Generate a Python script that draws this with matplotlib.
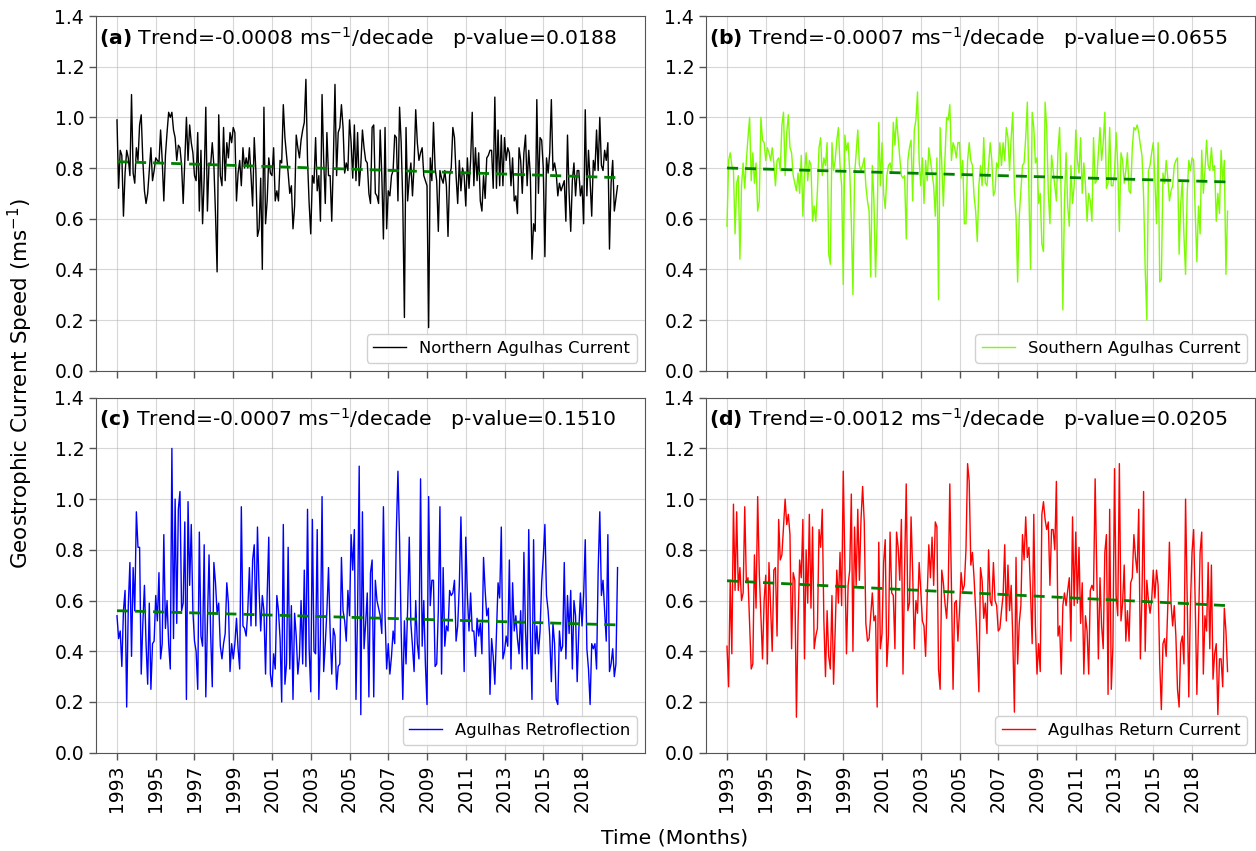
import numpy as np
import matplotlib
matplotlib.use("Agg")
import matplotlib.pyplot as plt

# ---------------- data (monthly values) ----------------
north_agulhas = [
    0.99, 0.72, 0.87, 0.85, 0.61, 0.78, 0.87, 0.84, 0.77, 1.09,
    0.78, 0.74, 0.88, 0.83, 0.97, 1.01, 0.83, 0.71, 0.66, 0.70,
    0.79, 0.88, 0.75, 0.79, 0.84, 0.83, 0.82, 0.95, 0.83, 0.67,
    0.85, 0.94, 1.02, 1.00, 1.02, 0.95, 0.92, 0.83, 0.89, 0.88,
    0.81, 0.66, 0.83, 1.00, 0.83, 0.97, 0.90, 0.86, 0.77, 0.75,
    0.94, 0.63, 0.87, 0.58, 0.76, 1.04, 0.63, 0.82, 0.81, 0.90,
    0.81, 0.62, 0.39, 1.01, 0.77, 0.73, 0.96, 0.75, 0.90, 0.84,
    0.94, 0.90, 0.96, 0.94, 0.67, 0.78, 0.83, 0.73, 0.88, 0.80,
    0.84, 0.80, 0.88, 0.77, 0.65, 0.92, 0.79, 0.53, 0.56, 0.76,
    0.40, 1.04, 0.58, 0.67, 0.84, 0.78, 0.77, 0.88, 0.67, 0.71,
    0.67, 0.83, 0.82, 1.05,
    0.92, 0.85, 0.78, 0.70, 0.73, 0.56, 0.65, 0.93, 0.88, 0.84,
    0.91, 0.95, 0.98, 1.15, 0.83, 0.66, 0.54, 0.77, 0.74, 0.92,
    0.71, 0.77, 0.59, 1.09, 0.83, 0.66, 0.94, 0.77, 0.77, 0.59,
    0.83, 1.13, 0.77, 0.94, 0.96, 1.05, 0.96, 0.78, 0.82, 0.79,
    0.99, 0.90, 0.76, 0.97, 0.75, 0.94, 0.73, 0.81, 0.95, 0.88,
    0.83, 0.82, 0.70, 0.66, 0.96, 0.97, 0.70, 0.69, 0.66, 0.95,
    0.77, 0.52, 0.96, 0.56, 0.71, 0.69, 0.77, 0.79, 0.93, 0.92,
    0.67, 1.04, 0.90, 0.66, 0.21, 0.96, 0.67, 0.76, 0.82, 0.69,
    0.81, 1.03, 0.90, 0.83, 0.86, 0.88, 0.77, 0.75, 0.73, 0.17,
    0.84, 0.75, 0.98, 0.80, 0.75, 0.55, 0.79, 0.76, 0.74, 0.79,
    0.73, 0.53, 0.77, 0.80,
    0.96, 0.92, 0.77, 0.66, 0.83, 0.71, 0.80, 0.77, 0.65, 0.84,
    0.72, 0.83, 1.02, 0.73, 0.88, 0.75, 0.86, 0.67, 0.63, 0.77,
    0.68, 0.84, 0.85, 0.87, 0.87, 0.72, 1.08, 0.72, 0.95, 0.73,
    0.93, 0.73, 0.92, 0.83, 0.88, 0.86, 0.73, 0.84, 0.67, 0.69,
    0.62, 0.88, 0.83, 0.70, 0.86, 0.93, 0.73, 0.87, 0.77, 0.44,
    0.58, 0.55, 1.07, 0.70, 0.92, 0.91, 0.80, 0.45, 0.84, 0.78,
    0.86, 1.07, 0.79, 0.82, 0.78, 0.69, 0.74, 0.71, 0.73, 0.75,
    0.59, 0.93, 0.70, 0.55, 0.75, 0.82, 0.69, 0.79, 0.79, 0.69,
    0.73, 0.58, 1.03, 0.69, 0.87, 0.75, 0.61, 0.83, 0.79, 0.95,
    0.79, 1.00, 0.81, 0.79, 0.87, 0.83, 0.90, 0.48, 0.74, 0.83,
    0.63, 0.68, 0.73,
]

south_agulhas = [
    0.57, 0.83, 0.86, 0.81, 0.79, 0.54, 0.74, 0.77, 0.44, 0.73,
    0.82, 0.72, 0.83, 0.92, 1.00, 0.75, 0.86, 0.74, 0.82, 0.63,
    0.67, 1.00, 0.91, 0.90, 0.83, 0.88, 0.86, 0.83, 0.88, 0.82,
    0.73, 0.83, 0.84, 0.79, 0.97, 1.02, 0.77, 0.94, 1.01, 0.88,
    0.86, 0.77, 0.74, 0.71, 0.78, 0.70, 0.85, 0.61, 0.78, 0.86,
    0.75, 0.83, 0.81, 0.59, 0.65, 0.59, 0.71, 0.88, 0.92, 0.77,
    0.84, 0.81, 0.90, 0.46, 0.42, 0.90, 0.79, 0.83, 0.91, 0.96,
    0.81, 0.73, 0.34, 0.93, 0.87, 0.90, 0.79, 0.59, 0.30, 0.77,
    0.86, 0.95, 0.81, 0.79, 0.81, 0.84, 0.73, 0.67, 0.63, 0.37,
    0.81, 0.67, 0.37, 0.59, 0.98, 0.73, 0.90, 0.70, 0.64, 0.77,
    0.81, 0.82, 0.78, 0.98, 0.89, 1.00, 0.92, 0.84, 0.77, 0.76,
    0.77, 0.52, 0.83, 0.88, 0.91, 0.67, 0.95, 0.99, 1.10, 0.83,
    0.73, 0.84, 0.66, 0.83, 0.75, 0.88, 0.83, 0.78, 0.73, 0.61,
    0.84, 0.28, 0.96, 0.82, 0.65, 0.84, 1.00, 0.99, 1.05, 0.83,
    0.90, 0.88, 0.84, 0.90, 0.90, 0.76, 0.83, 0.58, 0.58, 0.83,
    0.90, 0.83, 0.81, 0.69, 0.63, 0.51, 0.73, 0.81, 0.73, 0.92,
    0.74, 0.73, 0.81, 0.90, 0.83, 0.69, 0.71, 0.82, 0.80, 0.90,
    0.81, 0.90, 0.83, 0.96, 0.92, 0.79, 0.92, 1.02, 0.71, 0.61,
    0.35, 0.61, 0.71, 0.81, 0.82, 0.92, 1.06, 0.70, 0.40, 1.02,
    0.96, 0.82, 0.84, 0.66, 0.70, 0.50, 0.47, 1.06, 0.96, 0.70,
    0.58, 0.85, 0.79, 0.73, 0.67, 0.87, 0.96, 0.67, 0.24,
    0.67, 0.86, 0.65, 0.57, 0.81, 0.66, 0.73, 0.95, 0.83, 0.78,
    0.92, 0.70, 0.82, 0.73, 0.59, 0.70, 0.67, 0.59, 0.92, 0.74,
    0.75, 0.86, 0.96, 0.83, 0.90, 1.02, 0.72, 0.74, 0.96, 0.73,
    0.73, 0.78, 0.94, 0.81, 0.55, 0.86, 0.83, 0.74, 0.79, 0.86,
    0.71, 0.70, 0.88, 0.96, 0.95, 0.97, 0.94, 0.89, 0.85, 0.69,
    0.40, 0.20, 0.79, 0.81, 0.86, 0.90, 0.75, 0.58, 0.90, 0.35,
    0.36, 0.78, 0.74, 0.83, 0.76, 0.67, 0.71, 0.73, 0.81, 0.83,
    0.84, 0.46, 0.66, 0.75, 0.53, 0.38, 0.70, 0.83, 0.79, 0.84,
    0.83, 0.62, 0.43, 0.65, 0.54, 0.87, 0.70, 0.79, 0.91, 0.81,
    0.79, 0.88, 0.79, 0.81, 0.59, 0.70, 0.62, 0.87, 0.75, 0.83,
    0.38, 0.63,
]

retroflection = [
    0.54, 0.45, 0.48, 0.34, 0.56, 0.64, 0.18, 0.58, 0.75, 0.38,
    0.73, 0.56, 0.95, 0.81, 0.81, 0.31, 0.51, 0.66, 0.43, 0.27,
    0.59, 0.25, 0.43, 0.44, 0.62, 0.52, 0.71, 0.37, 0.43, 0.86,
    0.49, 0.60, 0.43, 0.33, 1.20, 0.45, 1.00, 0.51, 0.96, 1.03,
    0.56, 0.59, 0.91, 0.21, 0.99, 0.66, 0.90, 0.56, 0.44, 0.40,
    0.25, 0.87, 0.46, 0.42, 0.82, 0.22, 0.51, 0.78, 0.47, 0.26,
    0.75, 0.67, 0.55, 0.59, 0.42, 0.37, 0.43, 0.47, 0.67, 0.59,
    0.32, 0.43, 0.37, 0.43, 0.53, 0.41, 0.33, 0.97, 0.50, 0.49,
    0.46, 0.56, 0.73, 0.50, 0.76, 0.82, 0.50, 0.89, 0.64, 0.48,
    0.62, 0.56, 0.31, 0.62, 0.85, 0.31, 0.26, 0.39, 0.33, 0.62,
    0.56, 0.45, 0.20,
    0.90, 0.27, 0.35, 0.81, 0.33, 0.58, 0.21, 0.55, 0.46, 0.31,
    0.38, 0.60, 0.35, 0.72, 0.34, 0.96, 0.41, 0.24, 0.92, 0.40,
    0.39, 0.88, 0.21, 0.46, 1.01, 0.32, 0.43, 0.56, 0.73, 0.48,
    0.31, 0.49, 0.46, 0.25, 0.34, 0.35, 0.77, 0.56, 0.52, 0.44,
    0.64, 0.54, 0.86, 0.72, 0.88, 0.21, 0.56, 1.13, 0.15, 0.95,
    0.41, 0.51, 0.63, 0.22, 0.71, 0.76, 0.22, 0.68, 0.60, 0.57,
    0.54, 0.47, 0.97, 0.54, 0.33, 0.43, 0.31, 0.38, 0.48, 0.43,
    0.87, 1.11, 0.84, 0.48, 0.21, 0.52, 0.35, 0.57, 0.85, 0.51,
    0.42, 0.32, 0.60, 0.43, 0.37, 1.08, 0.42, 0.60, 0.35, 0.19,
    1.01, 0.58, 0.68, 0.68, 0.34, 0.35, 0.56, 0.97, 0.31, 0.73,
    0.42, 0.50, 0.48, 0.64,
    0.62, 0.63, 0.68, 0.44, 0.50, 0.66, 0.93, 0.62, 0.32, 0.85,
    0.62, 0.48, 0.63, 0.48, 0.48, 0.38, 0.53, 0.46, 0.51, 0.39,
    0.77, 0.64, 0.54, 0.57, 0.23, 0.45, 0.38, 0.27, 0.47, 0.67,
    0.61, 0.89, 0.37, 0.40, 0.46, 0.42, 0.76, 0.33, 0.67, 0.48,
    0.54, 0.45, 0.39, 0.56, 0.33, 0.79, 0.48, 0.33, 0.88, 0.48,
    0.21, 0.84, 0.39, 0.50, 0.39, 0.48, 0.67, 0.77, 0.90, 0.62,
    0.56, 0.46, 0.28, 0.51, 0.43, 0.21, 0.19, 0.48, 0.40, 0.42,
    0.75, 0.37, 0.62, 0.47, 0.64, 0.33, 0.60, 0.54, 0.28, 0.48,
    0.63, 0.50, 0.62, 0.84, 0.41, 0.33, 0.19, 0.43, 0.41, 0.43,
    0.33, 0.72, 0.95, 0.62, 0.68, 0.56, 0.44, 0.86, 0.32, 0.35,
    0.41, 0.30, 0.35, 0.73,
]

return_current = [
    0.42, 0.26, 0.68, 0.39, 0.98, 0.64, 0.95, 0.64, 0.73, 0.60,
    0.63, 0.97, 0.67, 0.69, 0.51, 0.33, 0.35, 0.78, 0.57, 1.01,
    0.71, 0.54, 0.37, 0.60, 0.70, 0.35, 0.75, 0.58, 0.40, 0.72,
    0.73, 0.46, 0.92, 0.76, 0.78, 0.89, 1.00, 0.90, 0.94, 0.86,
    0.41, 0.71, 0.68, 0.14, 0.51, 0.76, 0.69, 0.92, 0.37, 0.80,
    0.59, 0.94, 0.57, 0.89, 0.41, 0.46, 0.49, 0.88, 0.81, 0.96,
    0.52, 0.30, 0.56, 0.38, 0.33, 0.62, 0.27, 0.48, 0.72, 0.59,
    0.79, 0.58, 1.11, 0.75, 0.39, 0.66, 0.72, 1.02, 0.40, 0.89,
    0.66, 0.96, 0.68, 0.92, 1.05, 0.91, 0.51, 0.44, 0.45, 0.54,
    0.63, 0.52, 0.54, 0.18, 0.83, 0.41, 0.47, 0.75, 0.84, 0.34,
    0.46, 0.87,
    0.63, 0.62, 0.41, 0.87, 0.81, 0.68, 0.92, 0.31, 0.73, 1.06,
    0.56, 0.59, 0.93, 0.71, 0.41, 0.60, 0.55, 0.75, 0.64, 0.52,
    0.50, 0.38, 0.62, 0.82, 0.69, 0.85, 0.66, 0.91, 0.89, 0.33,
    0.25, 0.72, 0.67, 0.59, 0.53, 0.64, 1.06, 0.66, 0.25, 0.59,
    0.60, 0.44, 0.56, 0.71, 0.64, 0.66, 0.80, 1.14, 1.07, 0.74,
    0.79, 0.69, 0.56, 0.42, 0.24, 0.73, 0.68, 0.53, 0.59, 0.47,
    0.80, 0.60, 0.58, 0.75, 0.60, 0.58, 0.48, 0.49, 0.56, 0.62,
    0.82, 0.52, 0.74, 0.56, 0.66, 0.45, 0.16, 0.77, 0.35, 0.51,
    0.58, 0.86, 0.76, 0.93, 0.77, 0.81, 0.63, 0.43, 0.94, 0.50,
    0.31, 0.43, 0.32, 0.94, 0.99, 0.92, 0.88, 0.91, 0.66, 0.88,
    0.88, 0.80, 1.07, 0.46, 0.50, 0.31, 0.58,
    0.63, 0.58, 0.64, 0.69, 0.44, 0.93, 0.58, 0.87, 0.59, 0.81,
    0.51, 0.67, 0.31, 0.54, 0.48, 0.31, 0.64, 0.66, 0.64, 1.08,
    0.71, 0.37, 0.69, 0.50, 0.41, 0.79, 0.86, 0.23, 0.96, 0.25,
    0.42, 1.12, 0.62, 0.54, 1.14, 0.52, 0.59, 0.74, 0.44, 0.56,
    0.44, 0.67, 0.69, 0.86, 0.77, 0.71, 0.96, 0.37, 0.62, 1.03,
    0.40, 0.68, 0.60, 0.55, 0.60, 0.72, 0.61, 0.72, 0.66, 0.35,
    0.17, 0.43, 0.45, 0.38, 0.58, 0.83, 0.59, 0.50, 0.58, 0.46,
    0.25, 0.18, 0.43, 0.46, 0.35, 1.00, 0.62, 0.22, 0.58, 0.79,
    0.88, 0.58, 0.23, 0.51, 0.79, 0.87, 0.31, 0.54, 0.48, 0.75,
    0.41, 0.74, 0.29, 0.39, 0.43, 0.15, 0.37, 0.37, 0.26, 0.57,
    0.48, 0.32,
]

series_names = ["Northern Agulhas Current", "Southern Agulhas Current",
                "Agulhas Retroflection", "Agulhas Return Current"]
series_colors = ["black", "#7CFC00", "blue", "red"]
panel_tags = ["(a)", "(b)", "(c)", "(d)"]
trend_text = ["-0.0008", "-0.0007", "-0.0007", "-0.0012"]
p_values = ["0.0188", "0.0655", "0.1510", "0.0205"]
trend_start = [0.825, 0.800, 0.560, 0.678]
trend_end = [0.762, 0.745, 0.504, 0.580]

tick_labels = ["1993", "1995", "1997", "1999", "2001", "2003", "2005",
               "2007", "2009", "2011", "2013", "2015", "2018"]
tick_step = 24  # months between labelled ticks

all_series = [north_agulhas, south_agulhas, retroflection, return_current]

# ---------------- figure ----------------
fig = plt.figure(figsize=(12.56, 8.51), dpi=100)
W, H = 1256, 851
boxes = [  # left, top, right, bottom in pixels
    (96, 16, 645, 370.7),
    (706, 16, 1255, 370.7),
    (96, 397.7, 645, 752.7),
    (706, 397.7, 1255, 752.7),
]

for i, (vals, name, col) in enumerate(zip(all_series, series_names, series_colors)):
    l, t, r, b = boxes[i]
    ax = fig.add_axes([l / W, 1 - b / H, (r - l) / W, (b - t) / H])
    y = np.array(vals)
    x = np.arange(len(y))
    ax.plot(x, y, color=col, lw=1.0, label=name, zorder=3)
    ax.plot([x[0], x[-1]], [trend_start[i], trend_end[i]], color="green",
            ls="--", lw=2.0, dashes=(4, 2.5), zorder=4)
    ax.set_ylim(0, 1.4)
    ax.set_xlim(-13, 327)
    ax.set_yticks(np.arange(0, 1.41, 0.2))
    ax.set_yticklabels([f"{v:.1f}" for v in np.arange(0, 1.41, 0.2)], fontsize=13.5)
    ticks = np.arange(len(tick_labels)) * tick_step
    ax.set_xticks(ticks)
    if i >= 2:
        ax.set_xticklabels(tick_labels, rotation=90, fontsize=13.5)
    else:
        ax.set_xticklabels([])
    ax.grid(True, color="#b0b0b0", alpha=0.5, lw=0.8)
    ax.set_axisbelow(True)
    for sp in ax.spines.values():
        sp.set_color("#555555")
    ax.tick_params(colors="black", length=5, width=1, color="#555555")
    ax.text(0.005, 0.975,
            r"$\bf{" + panel_tags[i] + r"}$ Trend=" + trend_text[i]
            + r" ms$^{-1}$/decade   p-value=" + p_values[i],
            transform=ax.transAxes, ha="left", va="top", fontsize=14.7)
    ax.legend(loc="lower right", fontsize=11.8, framealpha=0.9)

fig.text(20 / W, 1 - 383 / H, r"Geostrophic Current Speed (ms$^{-1}$)", rotation=90,
         ha="center", va="center", fontsize=15.5)
fig.text(675 / W, 1 - 838 / H, "Time (Months)", ha="center", va="center", fontsize=14.7)

fig.savefig("out.png", dpi=100)
